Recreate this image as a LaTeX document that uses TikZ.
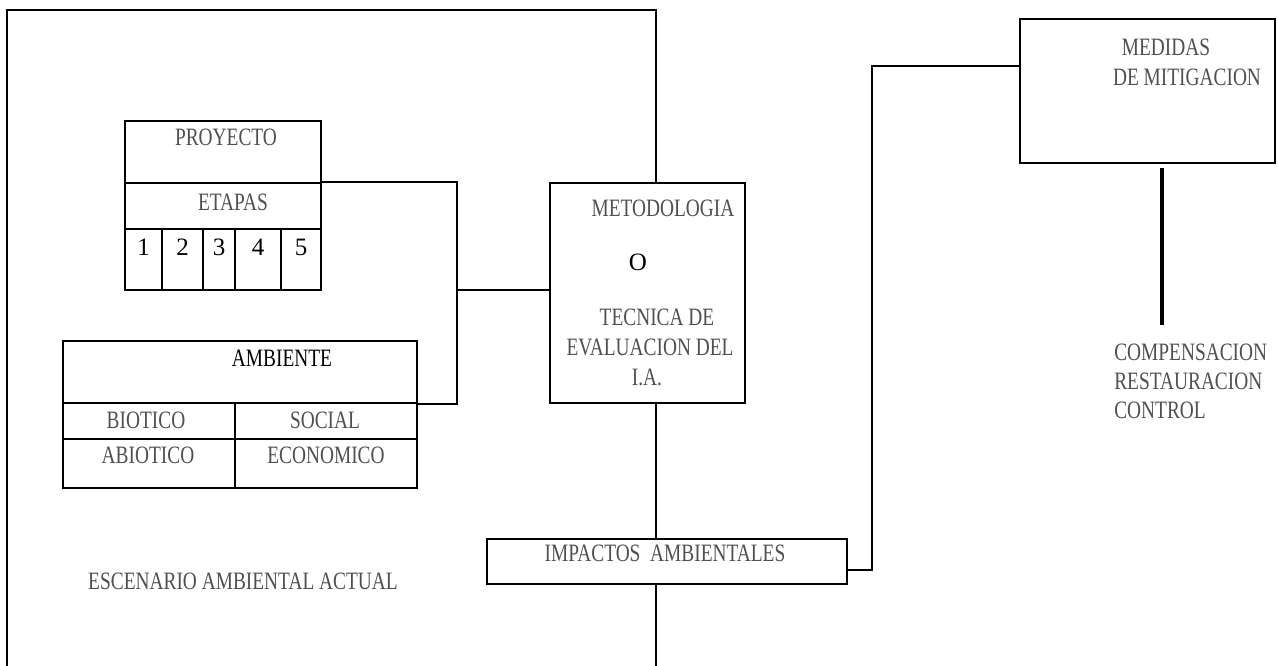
\documentclass[tikz,border=0pt]{standalone}
\usepackage{fontspec}
\setmainfont{Liberation Serif}
\newfontfamily\narrowserif[FakeStretch=0.775]{Liberation Serif}
\usetikzlibrary{fit,calc}
\definecolor{inkgray}{RGB}{80,80,80}
\begin{document}
\begin{tikzpicture}[x=0.75pt,y=-0.75pt,
  cell/.style={draw=black, line width=1.5pt, inner sep=0pt},
  wire/.style={draw=black, line width=1.5pt},
  heavywire/.style={draw=black, line width=3pt},
  lbl/.style={inner sep=0pt, text=inkgray, font=\narrowserif\fontsize{18.75}{22}\selectfont},
  lblk/.style={lbl, text=black},
  plain/.style={inner sep=0pt, text=black, font=\fontsize{18.75}{22}\selectfont},
]
\useasboundingbox (0,0) rectangle (1278,666);

% project table
\node[cell, fit={(125,121) (321,183)}] (proyt) {};
\node[cell, fit={(125,183) (321,229)}] (etapas) {};
\node[cell, fit={(125,229) (162,290)}] (c1) {};
\node[cell, fit={(162,229) (203,290)}] (c2) {};
\node[cell, fit={(203,229) (235,290)}] (c3) {};
\node[cell, fit={(235,229) (281,290)}] (c4) {};
\node[cell, fit={(281,229) (321,290)}] (c5) {};
\node[lbl] (tproy) at (226,137) {PROYECTO};
\node[lbl] (tetapas) at (233,202) {ETAPAS};
\coordinate (digrow) at (0,247);
\node[plain] (d1) at (c1 |- digrow) {1};
\node[plain] (d2) at (c2 |- digrow) {2};
\node[plain] (d3) at (c3 |- digrow) {3};
\node[plain] (d4) at (c4 |- digrow) {4};
\node[plain] (d5) at (c5 |- digrow) {5};

% environment table
\node[cell, fit={(63,341) (417,403)}] (ambt) {};
\node[cell, fit={(63,403) (235,439)}] (bio) {};
\node[cell, fit={(235,403) (417,439)}] (soc) {};
\node[cell, fit={(63,439) (235,488)}] (abio) {};
\node[cell, fit={(235,439) (417,488)}] (eco) {};
\node[lblk] (tamb) at (282,358) {AMBIENTE};
\node[lbl] (tbio) at (146,420) {BIOTICO};
\node[lbl] (tsoc) at (325,420) {SOCIAL};
\node[lbl] (tabio) at (148,455) {ABIOTICO};
\node[lbl] (teco) at (326,455) {ECONOMICO};

% methodology
\node[cell, fit={(550,183) (745,403)}] (met) {};
\node[lbl] (tmet1) at (663,208) {METODOLOGIA};
\node[plain] (tmet2) at (638,262) {O};
\node[lbl] (tmet3) at (657,317) {TECNICA DE};
\node[lbl] (tmet4) at (650,347) {EVALUACION DEL};
\node[lbl] (tmet5) at (647,377) {I.A.};

% impacts
\node[cell, fit={(487,539) (847,584)}] (imp) {};
\node[lbl] (timp) at (665,553) {IMPACTOS~~AMBIENTALES};

\node[lbl] (tesc) at (243,581) {ESCENARIO AMBIENTAL ACTUAL};

% mitigation
\node[cell, fit={(1020,19) (1275,163)}] (med) {};
\node[lbl] (tmed1) at (1166,47) {MEDIDAS};
\node[lbl] (tmed2) at (1187,77) {DE MITIGACION};
\node[lbl, anchor=west] (tcomp) at (1114,352) {COMPENSACION};
\node[lbl, anchor=west] (trest) at (1114,381) {RESTAURACION};
\node[lbl, anchor=west] (tctrl) at (1114,410) {CONTROL};

% scenario frame and spine
\coordinate (corner) at (7,10);
\coordinate (frameend) at (7,666);
\coordinate (spine) at (656,10);
\coordinate (spineend) at (656,666);
\draw[wire] (frameend) -- (corner) -- (spine) -- (spine |- met.north);
\draw[wire] (spine |- met.south) -- (spine |- imp.north);
\draw[wire] (spine |- imp.south) -- (spineend);

% project and environment feed the methodology
\coordinate (bus) at (457,290);
\draw[wire] (etapas.north east) -| (bus) |- (ambt.south east);
\draw[wire] (bus) -- (bus -| met.west);

% impacts lead to the mitigation measures
\coordinate (riser) at (872,570);
\coordinate (medin) at (1020,66);
\draw[wire] (imp.east |- riser) -| (medin -| riser) -- (medin);

% mitigation measures down to their list
\coordinate (cend) at (1162,325);
\draw[heavywire] ($(cend |- med.south)+(0,4)$) -- (cend);
\end{tikzpicture}
\end{document}
